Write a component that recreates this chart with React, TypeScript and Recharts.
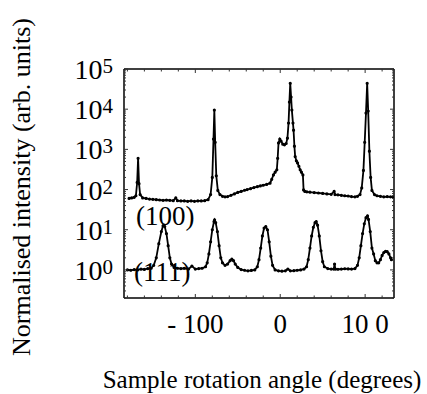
import { LineChart, Line, XAxis, YAxis } from "recharts";

// (100) scan: rotation angle (deg) and intensity
const angles100 = [
  -178, -175, -172, -170, -168.5, -167.4, -166.3, -165, -162, -158, -154, -150, -146, -142, -138, -134, -130, -126,
  -123, -121, -117, -113, -109, -105, -101, -97, -93, -89, -85, -82, -80, -78.6, -77.6, -76.6, -75.3, -73.5, -71,
  -68, -65, -62, -58, -54, -50, -46, -42, -39, -35, -31, -27, -23.5, -20, -16, -12, -10, -8, -6, -4, -3, -2, -0.5,
  1, 3, 5, 7, 8.5, 9.8, 10.8, 11.8, 12.8, 13.7, 15, 15.7, 16.7, 17.6, 19, 20.4, 22, 23.5, 25, 26.7, 27.5, 29, 31.4,
  35, 40, 45, 50, 55, 60, 63.5, 64.5, 68, 72, 76, 80, 84, 88, 91, 94, 96, 98, 99.5, 101, 102.4, 103.6, 105, 106.5,
  108, 111, 114, 118, 122, 126, 130, 133,
];
const counts100 = [
  60, 62, 64, 70, 150, 600, 140, 75, 62, 60, 58, 57, 56, 55, 54, 55, 54, 53, 62, 53, 52, 52, 51, 52, 51, 52, 52, 53,
  56, 75, 200, 1800, 9500, 1500, 220, 95, 75, 68, 66, 67, 72, 78, 85, 90, 96, 100, 105, 112, 118, 123, 128, 134, 144,
  180, 231, 270, 310, 600, 1450, 1800, 1600, 1350, 1300, 1400, 1900, 4500, 15000, 44000, 20000, 9500, 4500, 3000,
  1200, 660, 520, 460, 380, 310, 270, 231, 98, 90, 88, 86, 84, 82, 80, 78, 76, 90, 75, 74, 72, 70, 69, 67, 66, 68, 75,
  110, 300, 1500, 8000, 44000, 9000, 900, 200, 95, 75, 70, 68, 66, 67, 66, 66,
];

// (111) scan
const angles111 = [
  -180, -176, -172, -168, -164, -160, -156, -152, -149, -146, -143, -140, -138, -137, -136, -134, -132, -130, -128,
  -125, -121, -117, -113, -108, -104, -100, -96, -92, -88, -86, -84, -82, -80, -78, -77.3, -76, -74, -72, -70, -68,
  -65, -62, -59, -57, -55, -53, -50, -46, -42, -38, -34, -30, -27, -25, -23, -21, -19, -17, -15, -13, -11, -9, -6,
  -2, 2, 6, 9, 12, 16, 20, 24, 28, 31, 33, 35, 37, 39, 41, 42.4, 44, 46, 48, 50, 52, 56, 60, 63, 64, 65, 68, 72, 76,
  80, 84, 88, 91, 93, 95, 97, 99, 101, 102.8, 104, 106, 108, 110, 112, 114, 116, 118, 120, 122, 124, 126, 128, 130,
  131,
];
const counts111 = [
  1.0, 0.98, 1.02, 1.0, 1.05, 1.03, 1.08, 1.1, 1.3, 2, 4.5, 9, 12.5, 13, 12, 8, 4, 2, 1.4, 1.15, 1.1, 1.08, 1.1, 1.05,
  1.25, 1.05, 1.08, 1.1, 1.2, 1.5, 2.5, 5, 10, 16, 17.5, 15, 9, 4, 2, 1.5, 1.3, 1.4, 1.7, 1.85, 1.7, 1.4, 1.15, 1.02,
  0.98, 0.95, 0.97, 1.0, 1.2, 1.8, 3.5, 7, 11, 12, 10, 5, 2.2, 1.3, 1.0, 0.95, 0.93, 0.95, 1.05, 0.95, 0.96, 0.98,
  1.0, 1.05, 1.2, 1.8, 3.5, 7, 11.5, 15, 16, 13, 7, 3, 1.6, 1.2, 1.08, 1.05, 1.05, 1.4, 1.05, 1.04, 1.05, 1.07, 1.06,
  1.05, 1.08, 1.3, 2, 4, 8, 14, 20, 22, 18, 9, 3.5, 2.5, 1.7, 1.5, 1.5, 1.8, 2.3, 2.7, 2.9, 2.85, 2.5, 2.0, 1.8,
];

const xTicks = [-180, -160, -140, -120, -100, -80, -60, -40, -20, 0, 20, 40, 60, 80, 100, 120];
const xMajor = [-100, 0, 100];
const xLabels = ["- 100", "0", "10 0"];
const yDecades = [1, 10, 100, 1000, 10000, 100000];
const yExponents = ["0", "1", "2", "3", "4", "5"];
const yTicks = [0.2, 0.3, 0.4, 0.5, 0.6, 0.7, 0.8, 0.9].concat(
  ...yDecades.slice(0, 5).map((d) => [1, 2, 3, 4, 5, 6, 7, 8, 9].map((m) => m * d)),
  [100000]
);

const data100 = angles100.map((a, i) => ({ angle: a, value: counts100[i] }));
const data111 = angles111.map((a, i) => ({ angle: a, value: counts111[i] }));

const FONT = "'Liberation Serif', 'Times New Roman', serif";

const XTick = ({ x, y, payload, side }: any) => {
  const v = payload.value;
  const idx = xMajor.indexOf(v);
  const len = idx >= 0 ? 4 : 2.5;
  const dir = side === "top" ? 1 : -1;
  return (
    <g>
      <line x1={x} y1={y} x2={x} y2={y + dir * len} stroke="#333" strokeWidth={1} />
      {side === "bottom" && idx >= 0 && (
        <text x={x} y={y + 35} textAnchor="middle" fontFamily={FONT} fontSize={27} fill="#000">
          {xLabels[idx]}
        </text>
      )}
    </g>
  );
};

const YTick = ({ x, y, payload, side }: any) => {
  const v = payload.value;
  const idx = yDecades.findIndex((d) => Math.abs(d - v) < d * 1e-6);
  const len = idx >= 0 ? 4 : 2;
  const dir = side === "right" ? -1 : 1;
  return (
    <g>
      <line x1={x} y1={y} x2={x + dir * len} y2={y} stroke="#333" strokeWidth={1} />
      {side === "left" && idx >= 0 && (
        <text x={x - 11} y={y + 10} textAnchor="end" fontFamily={FONT} fontSize={28} fill="#000">
          10
          <tspan dy={-6} fontSize={21}>
            {yExponents[idx]}
          </tspan>
        </text>
      )}
    </g>
  );
};

export default function App() {
  return (
    <div style={{ position: "absolute", left: 0, top: 0, width: 427, height: 394, background: "#fff" }}>
      <LineChart width={427} height={394} margin={{ top: 68, right: 32, bottom: 95, left: 123 }}>
        <XAxis
          xAxisId="b"
          dataKey="angle"
          type="number"
          domain={[-184, 134]}
          allowDataOverflow
          ticks={xTicks}
          interval={0}
          height={1}
          tickSize={0}
          tickMargin={0}
          axisLine={{ stroke: "#000", strokeWidth: 1.5 }}
          tick={(p: any) => <XTick {...p} side="bottom" />}
        />
        <XAxis
          xAxisId="t"
          orientation="top"
          dataKey="angle"
          type="number"
          domain={[-184, 134]}
          allowDataOverflow
          ticks={xTicks}
          interval={0}
          height={1}
          tickSize={0}
          tickMargin={0}
          axisLine={{ stroke: "#000", strokeWidth: 1.5 }}
          tick={(p: any) => <XTick {...p} side="top" />}
        />
        <YAxis
          yAxisId="l"
          scale="log"
          type="number"
          domain={[0.2, 100000]}
          allowDataOverflow
          ticks={yTicks}
          interval={0}
          width={1}
          tickSize={0}
          tickMargin={0}
          axisLine={{ stroke: "#000", strokeWidth: 1.5 }}
          tick={(p: any) => <YTick {...p} side="left" />}
        />
        <YAxis
          yAxisId="r"
          orientation="right"
          scale="log"
          type="number"
          domain={[0.2, 100000]}
          allowDataOverflow
          ticks={yTicks}
          interval={0}
          width={1}
          tickSize={0}
          tickMargin={0}
          axisLine={{ stroke: "#000", strokeWidth: 1.5 }}
          tick={(p: any) => <YTick {...p} side="right" />}
        />
        <Line
          data={data100}
          xAxisId="b"
          yAxisId="l"
          dataKey="value"
          type="linear"
          stroke="#000"
          strokeWidth={1.8}
          dot={{ r: 0.7, fill: "#000", stroke: "#000" }}
          isAnimationActive={false}
        />
        <Line
          data={data111}
          xAxisId="b"
          yAxisId="l"
          dataKey="value"
          type="linear"
          stroke="#000"
          strokeWidth={1.8}
          dot={{ r: 0.7, fill: "#000", stroke: "#000" }}
          isAnimationActive={false}
        />
      </LineChart>
      <svg
        width={427}
        height={394}
        style={{ position: "absolute", left: 0, top: 0, pointerEvents: "none" }}
      >
        <text x={136} y={225} fontFamily={FONT} fontSize={27} fill="#000">
          (100)
        </text>
        <text x={134} y={281} fontFamily={FONT} fontSize={27} fill="#000">
          (111)
        </text>
        <text
          x={262}
          y={388}
          textAnchor="middle"
          fontFamily={FONT}
          fontSize={25}
          fill="#000"
        >
          Sample rotation angle (degrees)
        </text>
        <text
          transform="translate(30,187) rotate(-90)"
          textAnchor="middle"
          fontFamily={FONT}
          fontSize={26}
          fill="#000"
        >
          Normalised intensity (arb. units)
        </text>
      </svg>
    </div>
  );
}
